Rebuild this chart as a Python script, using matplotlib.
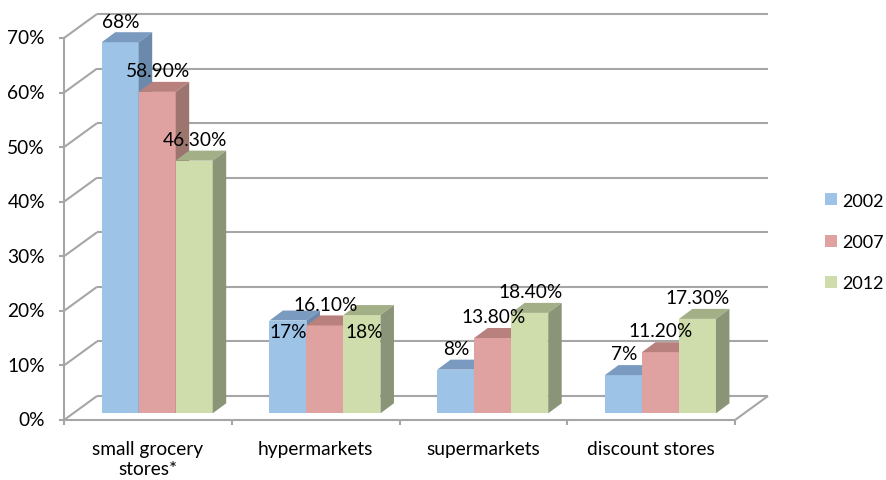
import matplotlib.pyplot as plt
from matplotlib.patches import Polygon, Patch

categories = ["small grocery\nstores*", "hypermarkets", "supermarkets", "discount stores"]
years = ["2002", "2007", "2012"]
share_2002 = [68, 17, 8, 7]
share_2007 = [58.9, 16.1, 13.8, 11.2]
share_2012 = [46.3, 18, 18.4, 17.3]
y_ticks = [0, 10, 20, 30, 40, 50, 60, 70]

series = [share_2002, share_2007, share_2012]
# front, top, side shades per series
shades = [("#9DC3E6", "#7A9BBF", "#6B89AA"),
          ("#E0A2A0", "#B8817E", "#9D756F"),
          ("#CFDDAC", "#A3AF86", "#8A9577")]

plt.rcParams['font.family'] = ['Lato', 'DejaVu Sans']
FS = 13.8

W, H = 886, 481
fig = plt.figure(figsize=(W / 100, H / 100), dpi=100)

# front plane of the box in pixels
left, right, floor, top = 64, 735, 421, 39
ax = fig.add_axes([left / W, 1 - floor / H, (right - left) / W, (floor - top) / H])
ax.set_xlim(0, len(categories))
ax.set_ylim(0, 70)
ax.axis('off')

px = len(categories) / (right - left)   # category units per pixel
py = 70 / (floor - top)                 # percent per pixel

# depth offsets: back wall, bar front plane, bar thickness
bx, by = 33 * px, 24 * py
fx, fy = 9.2 * px, 6.7 * py
dx, dy = 13.5 * px, 10 * py
bw = 37 * px
gx = 28.5 * px

grid = "#A6A6A6"
lw = 1.5

def line(xs, ys, **kw):
    ax.plot(xs, ys, color=grid, lw=lw, clip_on=False, solid_capstyle='butt', **kw)

# walls and floor
for v in y_ticks:
    line([bx, len(categories) + bx], [v + by, v + by], zorder=1)
    line([0, bx], [v, v + by], zorder=1)
    line([-5 * px, 0], [v, v], zorder=1)
    ax.text(-19 * px, v, f"{v}%", ha='right', va='center', fontsize=FS)
line([0, 0], [0, 70], zorder=1)
line([0, len(categories)], [0, 0], zorder=1)
line([len(categories), len(categories) + bx], [0, by], zorder=1)
for i in range(len(categories) + 1):
    line([i, i], [0, -5 * py], zorder=1)
for i, name in enumerate(categories):
    ax.text(i + 0.5, -20 * py, name, ha='center', va='top', fontsize=FS,
            linespacing=1.2)

def face(pts, color, z):
    ax.add_patch(Polygon(pts, closed=True, facecolor=color, edgecolor='none',
                         clip_on=False, zorder=z))

def fmt(v):
    return f"{v:.0f}%" if float(v).is_integer() else f"{v:.2f}%"

# a couple of labels sit inside their bars
label_shift = {(0, 1): (0, -32), (2, 1): (2.5, -38)}

for j, vals in enumerate(series):
    c_front, c_top, c_side = shades[j]
    for i, v in enumerate(vals):
        x0 = i + gx + j * bw + fx
        x1 = x0 + bw
        y0 = fy
        y1 = fy + v
        z = 3 + j
        face([(x0, y0), (x1, y0), (x1, y1), (x0, y1)], c_front, z)
        face([(x0, y1), (x1, y1), (x1 + dx, y1 + dy), (x0 + dx, y1 + dy)], c_top, z)
        face([(x1, y0), (x1 + dx, y0 + dy), (x1 + dx, y1 + dy), (x1, y1)], c_side, z)
        sx, sy = label_shift.get((j, i), (0.5, 0))
        ax.annotate(fmt(v), xy=((x0 + x1) / 2, y1 + dy), xytext=(sx, 11.2 + sy),
                    textcoords='offset pixels', ha='center', va='center',
                    fontsize=FS, zorder=10, annotation_clip=False)

handles = [Patch(facecolor=s[0], edgecolor='none') for s in shades]
ax.legend(handles, years, loc='center left', bbox_to_anchor=(825 / W, 1 - 243 / H),
          bbox_transform=fig.transFigure, frameon=False, fontsize=13,
          handlelength=0.64, handleheight=0.64, handletextpad=0.3,
          labelspacing=1.4, borderpad=0, borderaxespad=0)

fig.savefig("out.png", dpi=100)
